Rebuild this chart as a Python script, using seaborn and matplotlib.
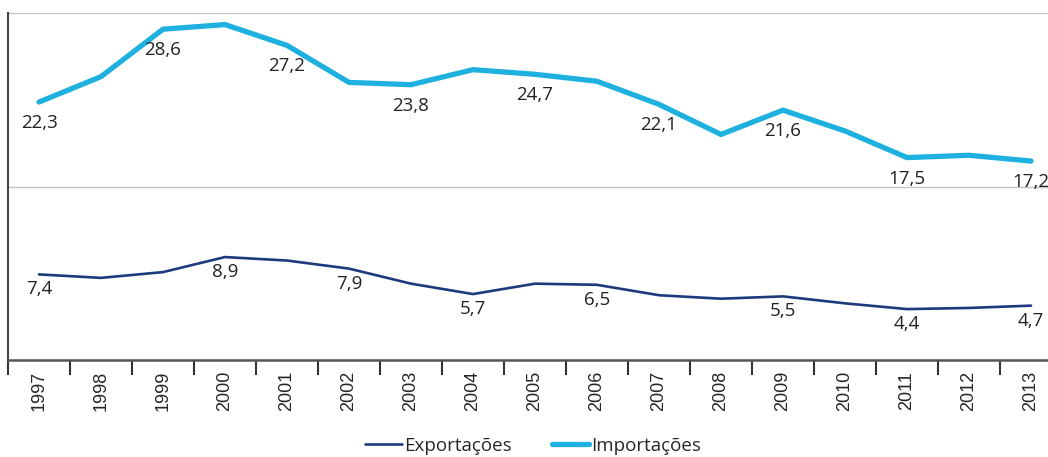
import pandas as pd
import matplotlib.pyplot as plt
import seaborn as sns
from matplotlib.ticker import FixedLocator

years = list(range(1997, 2014))
exportacoes = [7.4, 7.1, 7.6, 8.9, 8.6, 7.9, 6.6, 5.7, 6.6, 6.5, 5.6, 5.3, 5.5, 4.9, 4.4, 4.5, 4.7]
importacoes = [22.3, 24.5, 28.6, 29.0, 27.2, 24.0, 23.8, 25.1, 24.7, 24.1, 22.1, 19.5, 21.6, 19.8, 17.5, 17.7, 17.2]
labeled_years = [1997, 1999, 2001, 2003, 2005, 2007, 2009, 2011, 2013]
labeled_exp_years = [1997, 2000, 2002, 2004, 2006, 2009, 2011, 2013]

df = pd.DataFrame({'ano': years, 'Exportações': exportacoes, 'Importações': importacoes})

sns.set_style("white")
plt.rcParams['font.family'] = ['Open Sans', 'DejaVu Sans']

fig = plt.figure(figsize=(10.48, 4.57), dpi=100)
ax = fig.add_axes([8 / 1048, 97 / 457, 1054 / 1048, 347 / 457])

exp_color = "#1d3a7c"
imp_color = "#1eb1df"

sns.lineplot(data=df, x='ano', y='Exportações', ax=ax, color=exp_color, linewidth=1.9, label='Exportações')
sns.lineplot(data=df, x='ano', y='Importações', ax=ax, color=imp_color, linewidth=3.8, label='Importações')

def fmt(v):
    return f"{v:.1f}".replace('.', ',')

for y in labeled_years:
    v = df.loc[df.ano == y, 'Importações'].iloc[0]
    ax.annotate(fmt(v), (y, v), xytext=(0, -21), textcoords='offset pixels',
                ha='center', va='center', fontsize=13.5, color='#222222')
for y in labeled_exp_years:
    v = df.loc[df.ano == y, 'Exportações'].iloc[0]
    ax.annotate(fmt(v), (y, v), xytext=(0, -15), textcoords='offset pixels',
                ha='center', va='center', fontsize=13.5, color='#222222')

ax.set_xlim(1996.5, 2013.5)
ax.set_ylim(0, 30)
ax.set_yticks([0, 15, 30])
ax.set_yticklabels([])
ax.tick_params(axis='y', length=0)
ax.grid(axis='y', color='#c4c4c4', linewidth=1)
ax.set_axisbelow(True)

ax.set_xticks(years)
ax.set_xticklabels([str(y) for y in years], rotation=90, fontsize=13, family='Liberation Sans')
ax.xaxis.set_minor_locator(FixedLocator([y - 0.5 for y in years] + [2013.5]))
ax.tick_params(axis='x', which='major', length=0, pad=8)
ax.tick_params(axis='x', which='minor', bottom=True, length=10.5, width=1.5, color='#333333', direction='out')

ax.set_xlabel('')
ax.set_ylabel('')
for s in ['top', 'right']:
    ax.spines[s].set_visible(False)
ax.spines['left'].set_color('#444444')
ax.spines['left'].set_linewidth(1.5)
ax.spines['bottom'].set_color('#555555')
ax.spines['bottom'].set_linewidth(1.8)

ax.get_legend().remove()
handles, labels = ax.get_legend_handles_labels()
fig.legend(handles, labels, loc='center', bbox_to_anchor=(533 / 1048, 1 - 446 / 457), ncol=2,
           frameon=False, fontsize=13.5, handlelength=2.0, handletextpad=0.12, columnspacing=2.1)

fig.savefig("out.png", dpi=100)
